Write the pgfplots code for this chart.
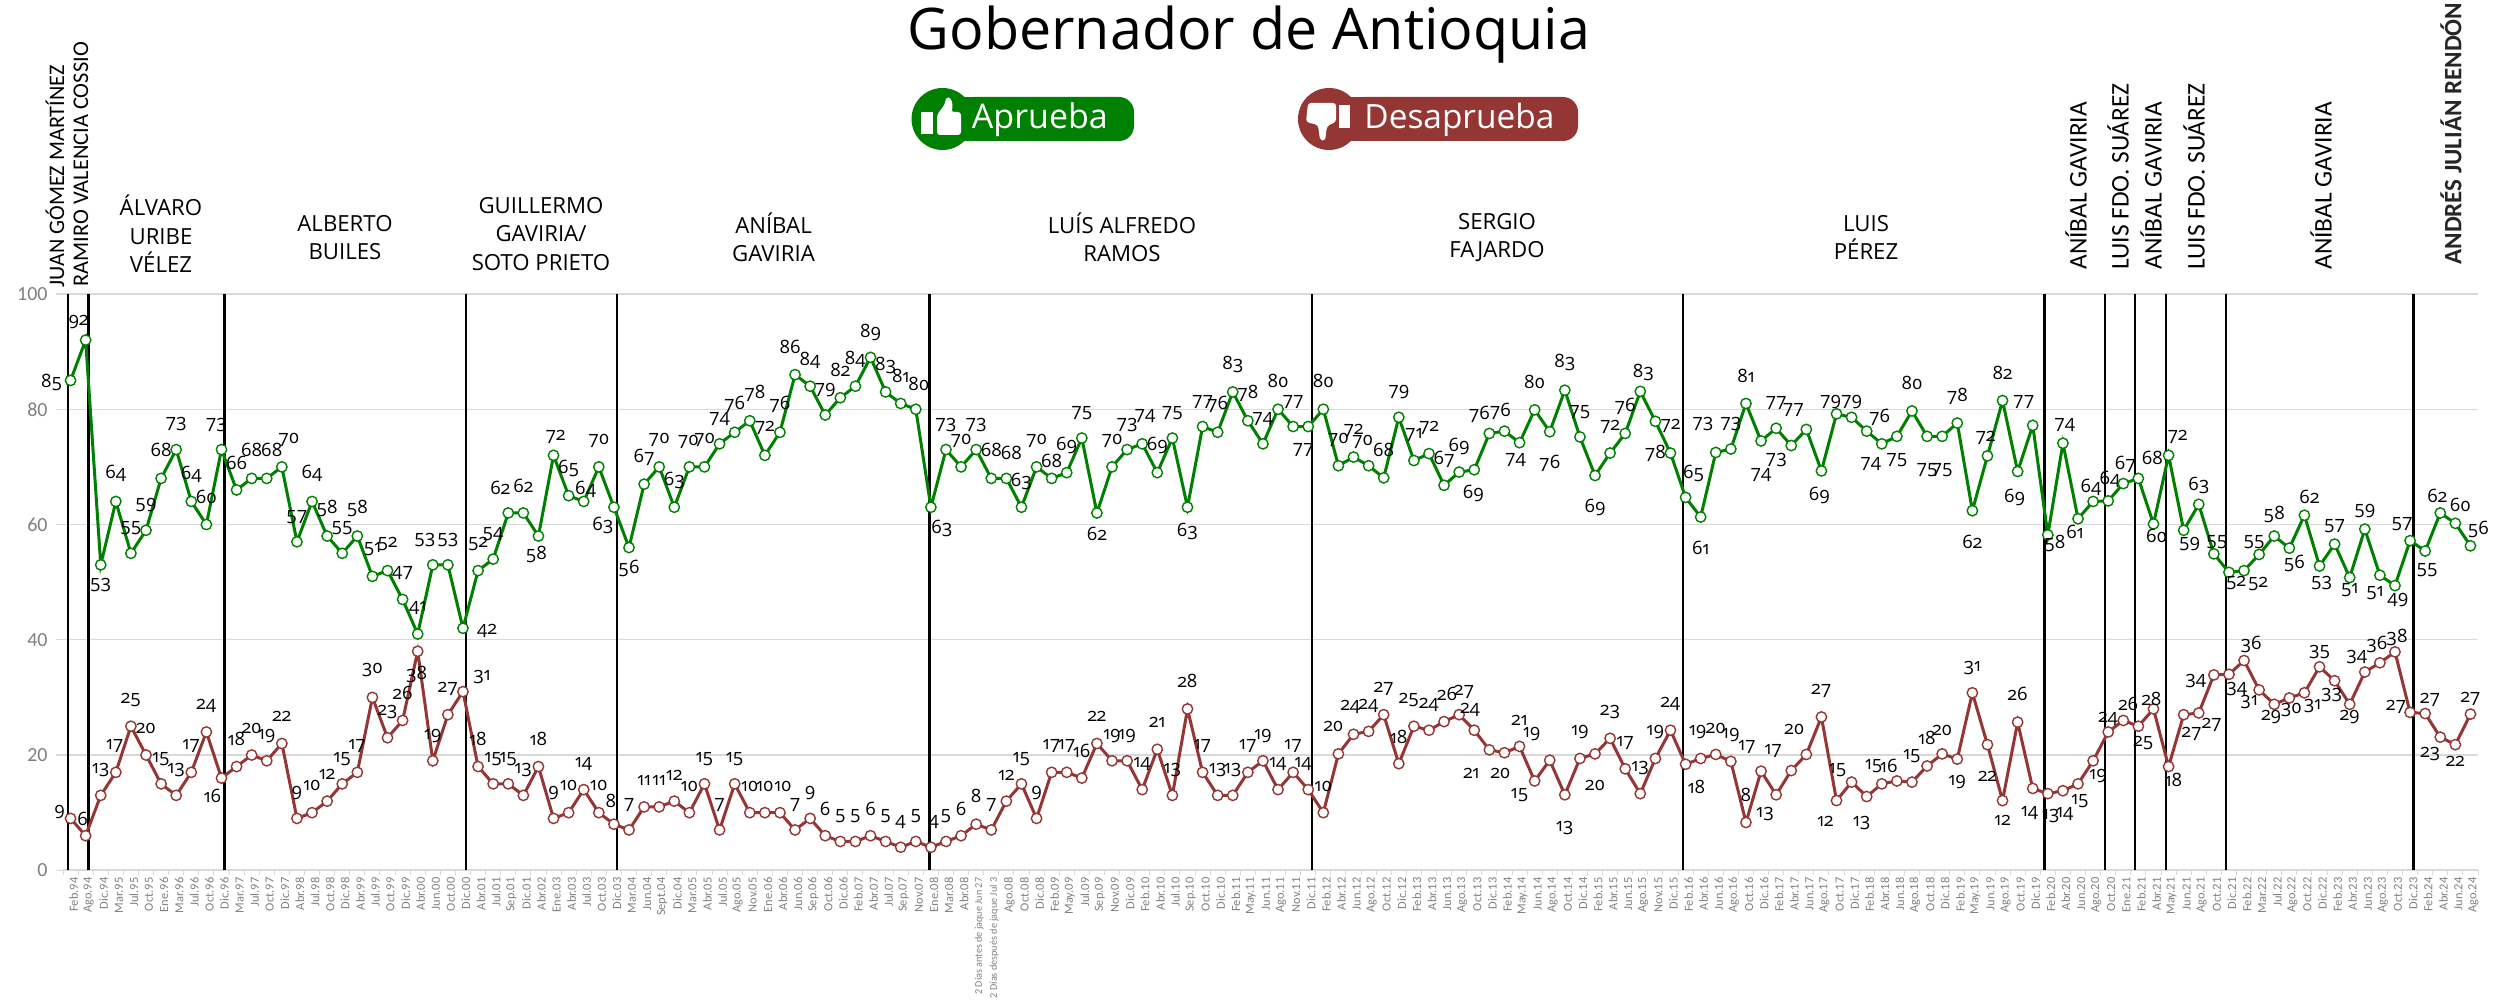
\documentclass[border=0pt]{standalone}
\usepackage{pgfplots}
\usepackage{pgfplotstable}
\usepackage{fontspec}
\pgfplotsset{compat=1.18}
\setmainfont{Open Sans}
\newfontfamily\labf[Numbers=OldStyle]{Open Sans}
\newfontfamily\carl{Carlito}
\definecolor{apr}{HTML}{008000}
\definecolor{des}{HTML}{943634}
\definecolor{gridc}{HTML}{D9D9D9}
\definecolor{tickt}{HTML}{7F7F7F}
\pgfplotstableread{
y lab dx dy
85 85 -19 -2
92 92 -7 18
53 53 0 -20
64 64 0 28
55 55 0 25
59 59 0 25
68 68 0 28
73 73 0 26
64 64 0 27
60 60 0 28
73 73 -5 25
66 66 0 27
68 68 0 28
68 68 5 28
70 70 7 27
57 57 0 25
64 64 0 28
58 58 0 28
55 55 0 25
58 58 0 28
51 51 0 27
52 52 0 27
47 47 0 26
41 41 0 26
53 53 -8 25
53 53 0 25
42 42 24 -3
52 52 0 27
54 54 0 25
62 62 -8 25
62 62 0 27
58 58 -2 -18
72 72 2 18
65 65 0 27
64 64 2 12
70 70 0 26
63 63 -11 -18
56 56 0 -21
67 67 0 27
70 70 0 27
63 63 0 27
70 70 -1 25
70 70 0 27
74 74 0 25
76 76 0 28
78 78 5 27
72 72 0 27
76 76 0 28
86 86 -5 28
84 84 0 26
79 79 0 25
82 82 0 28
84 84 0 27
89 89 0 25
83 83 0 26
81 81 0 28
80 80 3 25
63 63 11 -21
73 73 0 25
70 70 0 26
73 73 0 25
68 68 0 28
68 68 5 25
63 63 0 26
70 70 0 26
68 68 0 17
69 69 0 27
75 75 0 25
62 62 0 -21
70 70 0 26
73 73 0 25
74 74 3 28
69 69 0 27
75 75 0 25
63 63 0 -24
77 77 0 25
76 76 0 28
83 83 0 27
78 78 0 27
74 74 0 25
80 80 0 28
77 77 0 25
77 77 -5 -23
80 80 0 28
70.2 70 0 26
71.7 72 0 26
70.2 70 -6 24
68.1 68 0 28
78.6 79 0 25
71.1 71 0 26
72.3 72 0 26
66.8 67 0 26
69.1 69 0 26
69.5 69 -1 -24
75.8 76 -10 19
76.2 76 -4 20
74.2 74 -4 -17
79.9 80 0 28
76.1 76 0 -32
83.3 83 0 28
75.2 75 0 25
68.5 69 0 -32
72.4 72 0 26
75.8 76 0 27
83.1 83 3 19
77.9 78 0 -32
72.4 72 0 27
64.7 65 8 24
61.3 61 0 -31
72.5 73 -13 28
73.1 73 0 25
81 81 0 28
74.5 74 0 -34
76.7 77 0 25
73.7 73 -15 -14
76.5 77 -13 19
69.3 69 -2 -25
79.2 79 -6 12
78.6 79 0 15
76.2 76 13 14
74 74 -11 -20
75.3 75 0 -24
79.7 80 0 28
75.3 75 0 -34
75.3 75 0 -34
77.6 78 0 27
62.4 62 0 -31
71.9 72 -2 18
81.5 82 0 28
69.2 69 -3 -26
77.2 77 -9 23
58.2 58 7 -9
74.1 74 2 18
61 61 -3 -13
64 64 -2 14
64.1 64 2 21
67.1 67 2 19
68 68 14 20
60.1 60 3 -12
72 72 9 18
59 59 6 -14
63.5 63 0 19
54.9 55 3 12
51.7 52 7 -11
52 52 14 -13
54.8 55 -5 12
58 58 0 22
55.9 56 5 -15
61.6 62 5 18
52.8 53 2 -17
56.6 57 0 18
50.8 51 0 -13
59.2 59 0 18
51.2 51 -5 -18
49.4 49 3 -14
57.2 57 -8 17
55.4 55 2 -19
62 62 -3 17
60.2 60 5 18
56.3 56 8 16
}\gtable
\pgfplotstableread{
y lab dx dy
9 9 -11 6
6 6 -3 17
13 13 0 25
17 17 -1 26
25 25 0 26
20 20 0 27
15 15 0 25
13 13 0 25
17 17 0 26
24 24 0 26
16 16 -9 -18
18 18 0 28
20 20 0 27
19 19 0 25
22 22 0 27
9 9 0 25
10 10 0 27
12 12 0 27
15 15 0 25
17 17 0 26
30 30 0 27
23 23 0 26
26 26 0 28
38 38 -1 -23
19 19 0 25
27 27 0 26
31 31 19 15
18 18 0 28
15 15 0 25
15 15 0 25
13 13 0 25
18 18 0 28
9 9 0 25
10 10 0 27
14 14 0 26
10 10 0 27
8 8 -3 23
7 7 0 25
11 11 0 26
11 11 0 26
12 12 0 26
10 10 0 26
15 15 0 25
7 7 0 25
15 15 0 25
10 10 0 26
10 10 0 26
10 10 3 26
7 7 0 25
9 9 0 25
6 6 0 27
5 5 0 25
5 5 0 25
6 6 0 27
5 5 0 25
4 4 0 25
5 5 0 25
4 4 3 25
5 5 0 25
6 6 0 27
8 8 0 28
7 7 0 25
12 12 0 26
15 15 0 25
9 9 0 25
17 17 0 26
17 17 0 26
16 16 0 27
22 22 0 27
19 19 0 25
19 19 0 25
14 14 0 26
21 21 0 27
13 13 0 25
28 28 0 28
17 17 0 26
13 13 0 25
13 13 0 25
17 17 0 26
19 19 0 25
14 14 0 26
17 17 0 26
14 14 -5 26
10 10 0 26
20.2 20 -5 27
23.6 24 -3 27
24.1 24 0 25
27 27 0 26
18.5 18 0 27
25 25 -5 26
24.3 24 0 25
25.8 26 3 28
27 27 5 23
24.3 24 -4 20
20.9 21 -18 -24
20.4 20 -4 -21
21.5 21 0 26
15.5 15 -15 -14
19.1 19 -18 26
13.1 13 0 -33
19.4 19 0 26
20.2 20 0 -32
22.9 23 0 26
17.6 17 0 26
13.3 13 0 26
19.4 19 0 26
24.3 24 0 26
18.4 18 11 -23
19.4 19 -3 26
20.1 20 0 26
18.9 19 0 26
8.3 8 0 28
17.2 17 -14 24
13.1 13 -11 -19
17.3 17 -18 20
20.1 20 -12 25
26.6 27 0 26
12.1 12 -11 -21
15.3 15 -14 12
12.8 13 -5 -26
15 15 -8 18
15.5 16 -8 15
15.3 15 0 26
18.1 18 0 28
20.2 20 0 23
19.3 19 0 -23
30.8 31 0 25
21.8 22 0 -32
12.1 12 0 -20
25.7 26 0 28
14.2 14 -3 -25
13.3 13 3 -22
13.8 14 2 -23
15 15 2 -17
19 19 5 -15
24 24 0 13
26 26 5 17
25 25 5 -17
28 28 -2 10
18 18 5 -13
27 27 8 -19
27.3 27 13 -12
33.9 34 -18 -6
34 34 8 -15
36.4 36 7 16
31.3 31 -10 -12
28.8 29 -3 -13
29.9 30 2 -12
30.8 31 8 -13
35.3 35 0 15
32.9 33 -3 -14
28.8 29 0 -13
34.4 34 -8 15
36 36 -3 18
37.9 38 2 14
27.4 27 -14 5
27.2 27 5 14
23.1 23 -10 -17
21.8 22 0 -17
27.1 27 0 15
}\rtable
\newcommand\addm[1]{\pgfplotstablecreatecol[create col/assign/.code={%
  \getthisrow{lab}\va \getthisrow{dx}\vb \getthisrow{dy}\vc
  \edef\vt{\va/\vb/\vc}%
  \pgfkeyslet{/pgfplots/table/create col/next content}\vt}]{m}{#1}}
\addm{\gtable}
\addm{\rtable}
\def\parselab#1/#2/#3\relax{\def\llab{#1}\def\ldx{#2}\def\ldy{#3}}
\def\getlab#1/#2/#3\relax{#1}
\newcommand\lng[1]{{\fontsize{5.1}{6}\selectfont #1}}
\pgfplotsset{
  ser/.style={line width=1.5pt, mark=*, mark size=2.6pt,
    mark options={fill=white, draw=#1, line width=0.7pt},
    color=#1,
    point meta=explicit symbolic,
    nodes near coords={\expandafter\getlab\pgfplotspointmeta\relax},
    every node near coord/.style={anchor=center, inner sep=0pt, text=black,
      font=\labf\fontsize{9.2}{10}\selectfont,
      /utils/exec={\expandafter\parselab\pgfplotspointmeta\relax},
      xshift=\ldx*0.5pt, yshift=\ldy*0.5pt}},
  vl/.style={black, line width=#1, forget plot, mark=none},
}
\begin{document}
\begin{tikzpicture}
\path[use as bounding box] (0,0) rectangle (1248pt,503pt);
\begin{axis}[
  at={(31.5pt,67.85pt)}, anchor=south west,
  scale only axis, width=1207.5pt, height=288.15pt,
  xmin=-0.5, xmax=159.5, ymin=0, ymax=100,
  clip=false,
  axis x line=bottom, axis y line=left,
  x axis line style={draw=gridc, line width=0.8pt, -},
  y axis line style={draw=none, -},
  ymajorgrids, grid style={gridc, line width=0.6pt},
  ytick={0,20,...,100},
  xtick={0,...,159},
  minor xtick={-0.5,0.5,...,159.5},
  tick align=outside,
  major tick length=3.5pt, minor tick length=2.5pt,
  major x tick style={draw=none},
  minor x tick style={draw=gridc, line width=0.5pt},
  y tick style={draw=gridc, line width=0.6pt},
  /pgf/number format/assume math mode=true,
  yticklabel style={font=\carl\fontsize{10}{10}\selectfont, text=tickt, inner sep=1pt, xshift=-3pt},
  xticklabel style={font=\carl\fontsize{6.2}{6.5}\selectfont, text=tickt, rotate=90, anchor=east, inner sep=0pt, yshift=-1.5pt},
  xticklabels={Feb.94,Ago.94,Dic.94,Mar.95,Jul.95,Oct.95,Ene.96,Mar.96,Jul.96,Oct.96,Dic.96,Mar.97,Jul.97,Oct.97,Dic.97,Abr.98,Jul.98,Oct.98,Dic.98,Abr.99,Jul.99,Oct.99,Dic.99,Abr.00,Jun.00,Oct.00,Dic.00,Abr.01,Jul.01,Sep.01,Dic.01,Abr.02,Ene.03,Abr.03,Jul.03,Oct.03,Dic.03,Mar.04,Jun.04,Sept.04,Dic.04,Mar.05,Abr.05,Jul.05,Ago.05,Nov.05,Ene.06,Abr.06,Jun.06,Sep.06,Oct.06,Dic.06,Feb.07,Abr.07,Jul.07,Sep.07,Nov.07,Ene.08,Mar.08,Abr.08,\lng{2 Días antes de jaque Jun 27},\lng{2 Días después de jaque Jul 3},Ago.08,Oct.08,Dic.08,Feb.09,May.09,Jul.09,Sep.09,Nov.09,Dic.09,Feb.10,Abr.10,Jul.10,Sep.10,Oct.10,Dic.10,Feb.11,May.11,Jun.11,Ago.11,Nov.11,Dic.11,Feb.12,Abr.12,Jun.12,Ago.12,Oct.12,Dic.12,Feb.13,Abr.13,Jun.13,Ago.13,Oct.13,Dic.13,Feb.14,May.14,Jun.14,Ago.14,Oct.14,Dic.14,Feb.15,Abr.15,Jun.15,Ago.15,Nov.15,Dic.15,Feb.16,Abr.16,Jun.16,Ago.16,Oct.16,Dic.16,Feb.17,Abr.17,Jun.17,Ago.17,Oct.17,Dic.17,Feb.18,Abr.18,Jun.18,Ago.18,Oct.18,Dic.18,Feb.19,May.19,Jun.19,Ago.19,Oct.19,Dic.19,Feb.20,Abr.20,Jun.20,Ago.20,Oct.20,Ene.21,Feb.21,Abr.21,May.21,Jun.21,Ago.21,Oct.21,Dic.21,Feb.22,Mar.22,Jul.22,Ago.22,Oct.22,Dic.22,Feb.23,Abr.23,Jun.23,Ago.23,Oct.23,Dic.23,Feb.24,Abr.24,Jun.24,Ago.24},
]
\addplot[vl=1pt] coordinates {(-0.2,0)(-0.2,100)};
\addplot[vl=1.4pt] coordinates {(1.2,0)(1.2,100)};
\addplot[vl=1.4pt] coordinates {(10.2,0)(10.2,100)};
\addplot[vl=1.4pt] coordinates {(26.2,0)(26.2,100)};
\addplot[vl=1.4pt] coordinates {(36.2,0)(36.2,100)};
\addplot[vl=1.4pt] coordinates {(56.9,0)(56.9,100)};
\addplot[vl=1.4pt] coordinates {(82.25,0)(82.25,100)};
\addplot[vl=1pt] coordinates {(106.8,0)(106.8,100)};
\addplot[vl=1.4pt] coordinates {(130.8,0)(130.8,100)};
\addplot[vl=1pt] coordinates {(134.8,0)(134.8,100)};
\addplot[vl=1pt] coordinates {(136.8,0)(136.8,100)};
\addplot[vl=1pt] coordinates {(138.8,0)(138.8,100)};
\addplot[vl=1pt] coordinates {(142.8,0)(142.8,100)};
\addplot[vl=1.4pt] coordinates {(155.2,0)(155.2,100)};
\addplot[ser=apr] table[x expr=\coordindex, y=y, meta=m] {\gtable};
\addplot[ser=des] table[x expr=\coordindex, y=y, meta=m] {\rtable};
\end{axis}
\begin{scope}[x=0.5pt, y=-0.5pt, yshift=503pt]
\node[font=\fontsize{28.7}{30}\selectfont, anchor=base] at (1249,50) {Gobernador de Antioquia};
% pills
\fill[apr] (942,97) rectangle (1000,141);
\fill[apr, rounded corners=7.5pt] (960,97) rectangle (1134,141);
\fill[apr] (942.5,119) circle[radius=15.5pt];
\fill[white] (921,112) rectangle (933,134);
\fill[white, rounded corners=1.5pt] (937,115) -- (945,104) -- (946,97) -- (951,98) -- (953,107) -- (951,112) -- (961,112) -- (961,135) -- (937,135) -- cycle;
\node[text=white, font=\fontsize{17}{18}\selectfont, anchor=base west, inner sep=0pt] at (971.5,129) {Aprueba};
\fill[des] (1329,97) rectangle (1400,141);
\fill[des, rounded corners=7.5pt] (1350,97) rectangle (1578,141);
\fill[des] (1329,119) circle[radius=15.5pt];
\fill[white] (1339,105) rectangle (1350,128);
\fill[white, rounded corners=1.5pt] (1336,122) -- (1327,126) -- (1325,141) -- (1320,140) -- (1318,125) -- (1306,122) -- (1308,103) -- (1336,103) -- cycle;
\node[text=white, font=\fontsize{16.7}{18}\selectfont, anchor=base west, inner sep=0pt] at (1364,129) {Desaprueba};
% names
\tikzset{nm/.style={font=\fontsize{11.1}{14.25}\selectfont, align=center, text=black, inner sep=0pt}}
\node[nm] at (161,234) {ÁLVARO\\URIBE\\VÉLEZ};
\node[nm] at (345,237.5) {ALBERTO\\BUILES};
\node[nm] at (541,234) {GUILLERMO\\GAVIRIA/\\SOTO PRIETO};
\node[nm] at (773.5,237.5) {ANÍBAL\\GAVIRIA};
\node[nm] at (1122,237.5) {LUÍS ALFREDO\\RAMOS};
\node[nm] at (1497,237.5) {SERGIO\\FAJARDO};
\node[nm] at (1866,237.5) {LUIS\\PÉREZ};
\tikzset{rn/.style={font=\carl\fontsize{12.7}{13}\selectfont, rotate=90, anchor=west, inner sep=0pt, text=black}}
\node[rn, font=\carl\fontsize{11.1}{12}\selectfont] at (55,288) {JUAN GÓMEZ MARTÍNEZ};
\node[rn, font=\carl\fontsize{11.2}{12}\selectfont] at (81,287) {RAMIRO VALENCIA COSSIO};
\node[rn] at (2076,270) {ANÍBAL GAVIRIA};
\node[rn] at (2118,270) {LUIS FDO. SUÁREZ};
\node[rn] at (2151,270) {ANÍBAL GAVIRIA};
\node[rn] at (2194,270) {LUIS FDO. SUÁREZ};
\node[rn] at (2321,270) {ANÍBAL GAVIRIA};
\node[rn, font=\carl\bfseries\fontsize{12.5}{13}\selectfont, text=black!85] at (2451,265) {ANDRÉS JULIÁN RENDÓN};
\end{scope}
\end{tikzpicture}
\end{document}
